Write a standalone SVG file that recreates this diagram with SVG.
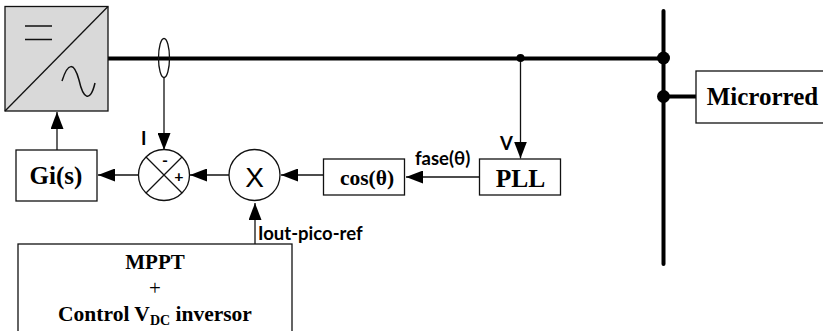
<svg xmlns="http://www.w3.org/2000/svg" width="823" height="331" viewBox="0 0 823 331">
<style>
.box{fill:#fff;stroke:#111;stroke-width:1.3}
.ln{fill:none;stroke:#111;stroke-width:1.3}
.th{fill:none;stroke:#000;stroke-width:4}
.thin{fill:none;stroke:#111;stroke-width:1.5}
.head{fill:#000}
.s{font-family:"Liberation Serif",serif;font-weight:bold;fill:#000;text-anchor:middle}
.c{font-family:Lato,"Liberation Sans",sans-serif;font-weight:bold;fill:#000;font-size:18.500px}
</style>
<defs><marker id="a" markerUnits="userSpaceOnUse" markerWidth="17" markerHeight="13" refX="17" refY="6.500" orient="auto"><path class="head" d="M0,0L17,6.500L0,13Z"/></marker></defs>
<g id="connectors">
<path class="th" d="M108,58.500H663"/>
<path class="th" d="M663.500,11V264" stroke-linecap="round"/>
<path class="th" d="M663,96.500H696"/>
<path class="ln" d="M164,78V150" marker-end="url(#a)"/>
<path class="ln" d="M520.500,58V158.500" marker-end="url(#a)"/>
<path class="ln" d="M57,150V112" marker-end="url(#a)"/>
<path class="ln" d="M139,175H98" marker-end="url(#a)"/>
<path class="ln" d="M229,175H190" marker-end="url(#a)"/>
<path class="ln" d="M323,175H281" marker-end="url(#a)"/>
<path class="ln" d="M479,177H406" marker-end="url(#a)"/>
<path class="ln" d="M255,244V203" marker-end="url(#a)"/>
<circle class="head" cx="520.500" cy="58" r="4"/>
<circle class="head" cx="663.500" cy="58" r="6.500"/>
<circle class="head" cx="663.500" cy="96.500" r="6.500"/>
</g>
<g id="converter">
<rect x="5" y="6.500" width="103" height="104.500" fill="#d9d9d9" stroke="#111" stroke-width="1.300"/>
<path class="ln" d="M5,111L108,6.500"/>
<path class="thin" d="M25,26H52M25,39.500H52"/>
<path class="thin" d="M62,81C68,62 74,62 79,80C83,98 90,104 95,83"/>
</g>
<g id="current-sensor"><ellipse cx="164" cy="58" rx="5.500" ry="19.500" fill="none" stroke="#111" stroke-width="1.300"/></g>
<g id="gi"><rect class="box" x="16" y="150" width="81" height="51"/><text class="s" x="56" y="184" font-size="25">Gi(s)</text></g>
<g id="sum"><circle class="box" cx="164" cy="175" r="25.500"/><path class="ln" d="M146,157L182,193M182,157L146,193"/>
<text class="c" x="165" y="166" text-anchor="middle" style="font-size:16px">-</text><text class="c" x="179" y="182" text-anchor="middle" style="font-size:16px">+</text></g>
<g id="mult"><circle class="box" cx="254.500" cy="175" r="25.500"/><text x="254.500" y="187" font-family="Liberation Sans,sans-serif" font-size="28" text-anchor="middle">X</text></g>
<g id="cos"><rect class="box" x="323.500" y="159" width="81" height="36"/><text class="s" x="367" y="185" font-size="21.500">cos(θ)</text></g>
<g id="pll"><rect class="box" x="479.500" y="159" width="81" height="36"/><text class="s" x="520.500" y="187" font-size="25.500">PLL</text></g>
<g id="microrred"><rect class="box" x="696" y="71" width="130" height="52"/><text class="s" x="762.500" y="105" font-size="25">Microrred</text></g>
<g id="mppt"><rect class="box" x="18" y="244" width="274" height="100"/>
<text class="s" x="155" y="269" font-size="21">MPPT</text>
<text x="155" y="295" font-family="Liberation Serif,serif" font-size="21" text-anchor="middle">+</text>
<text class="s" x="155" y="321" font-size="21.500">Control V<tspan font-size="14" dy="4">DC</tspan><tspan dy="-4"> inversor</tspan></text></g>
<g id="labels">
<text class="c" x="141" y="145">I</text>
<text class="c" x="500" y="150">V</text>
<text class="c" x="415" y="165">fase(θ)</text>
<text class="c" x="258" y="240">Iout-pico-ref</text>
</g>
</svg>
